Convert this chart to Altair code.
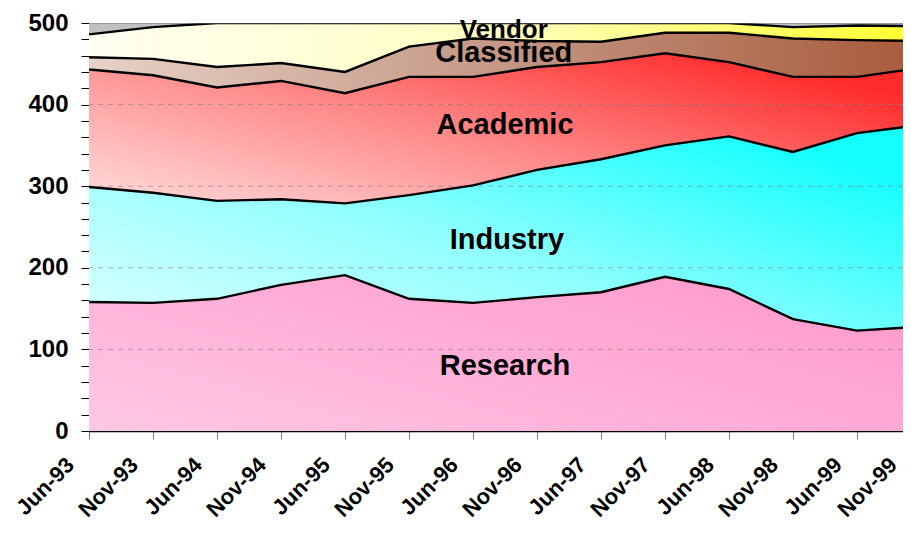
import json
import altair as alt
import pandas as pd
import numpy as np

dates = ["Jun-93", "Nov-93", "Jun-94", "Nov-94", "Jun-95", "Nov-95", "Jun-96",
         "Nov-96", "Jun-97", "Nov-97", "Jun-98", "Nov-98", "Jun-99", "Nov-99"]
research = [158, 157, 162, 179, 191, 162, 157, 164, 170, 189, 174, 137, 123, 128]
industry = [141, 135, 120, 105, 88, 127, 144, 156, 163, 161, 187, 205, 242, 247]
academic = [144, 144, 139, 145, 135, 145, 133, 126, 119, 113, 91, 92, 69, 70]
classified = [15, 20, 25, 22, 26, 37, 47, 32, 25, 25, 36, 47, 45, 33]
vendor = [28, 39, 54, 49, 60, 29, 19, 22, 23, 12, 12, 14, 18, 18]
others = [14, 5, 0, 0, 0, 0, 0, 0, 0, 0, 0, 5, 3, 4]

series_names = ["Research", "Industry", "Academic", "Classified", "Vendor", "Others"]
series_values = [research, industry, academic, classified, vendor, others]
# gradient stops (left -> right) and direction (diagonal or horizontal)
series_stops = [
    (["#FFC8E6", "#FFB0D8", "#FF9CCC"], True),
    (["#DCFFFF", "#90FFFF", "#14FFFF"], True),
    (["#FFDCDC", "#FF8A8A", "#FF2A2A"], True),
    (["#E6D2C6", "#C49684", "#A85A3A"], False),
    (["#FFFFF2", "#FFFFC0", "#FFFF2E"], False),
    (["#C0C0C0", "#C0C0C0", "#C0C0C0"], False),
]

label_names = ["Research", "Industry", "Academic", "Classified", "Vendor"]
label_x = [6.5, 6.53, 6.5, 6.48, 6.48]
label_y = [80, 234, 375, 463, 491]
label_size = [29, 29, 29, 29, 26]

grid_values = [100, 200, 300, 400]

rows = []
cum = np.zeros(len(dates))
for name, vals in zip(series_names, series_values):
    lo = cum.copy()
    hi = cum + np.array(vals, dtype=float)
    for i in range(len(dates)):
        rows.append(dict(idx=i, date=dates[i], series=name, lo=lo[i], hi=hi[i]))
    cum = hi
df = pd.DataFrame(rows)

FONT = "Liberation Sans"

x_scale = alt.Scale(domain=[0, 13], range=[0, 832], nice=False, zero=False)
y_scale = alt.Scale(domain=[0, 500], nice=False)

x_axis = alt.Axis(
    values=list(range(len(dates))),
    labelExpr=json.dumps(dates) + "[datum.value]",
    labelAngle=315, labelAlign="right", labelBaseline="middle",
    labelOffset={"condition": {"test": "datum.value == 13", "value": -28}, "value": -19},
    labelPadding=22, tickSize=8, tickColor="#808080",
    domainColor="black", domainWidth=1.5, labelFont=FONT, labelFontSize=22,
    labelFontWeight="bold", labelColor="black", grid=False, title=None,
    labelOverlap=False, labelBound=False, labelFlush=False,
)
y_axis = alt.Axis(
    values=list(range(0, 501, 20)),
    labelExpr="datum.value % 100 == 0 ? datum.label : ''",
    tickSize=8, tickColor="black", domainColor="#404040", labelPadding=13,
    labelFont=FONT, labelFontSize=24, labelFontWeight="bold", labelColor="black",
    grid=False, title=None, labelOverlap=False, labelBound=False, labelFlush=False,
)

X = alt.X("idx:Q", scale=x_scale, axis=x_axis)

layers = []
for name, (stops, diagonal) in zip(series_names, series_stops):
    grad = alt.Gradient(
        gradient="linear",
        stops=[alt.GradientStop(color=c, offset=k / (len(stops) - 1)) for k, c in enumerate(stops)],
        x1=0, y1=1 if diagonal else 0.5, x2=1, y2=0.3 if diagonal else 0.5,
    )
    layers.append(
        alt.Chart(df[df.series == name]).mark_area(color=grad, opacity=1, clip=True, interpolate="linear")
        .encode(x=X, y=alt.Y("hi:Q", scale=y_scale, axis=y_axis), y2="lo:Q")
    )

grid_df = pd.DataFrame({"g": grid_values})
layers.append(
    alt.Chart(grid_df).mark_rule(color="#808080", strokeDash=[5, 5], strokeWidth=1, opacity=0.6)
    .encode(y=alt.Y("g:Q", scale=y_scale, axis=y_axis))
)

for name in series_names:
    if name == "Others":
        layers.append(
            alt.Chart(df[df.series == name]).mark_line(color="#707070", strokeWidth=1, clip=True)
            .encode(x=X, y=alt.Y("hi:Q", scale=y_scale, axis=y_axis))
        )
    else:
        layers.append(
            alt.Chart(df[df.series == name]).mark_line(color="black", strokeWidth=2.4, clip=True)
            .encode(x=X, y=alt.Y("hi:Q", scale=y_scale, axis=y_axis))
        )

text_df = pd.DataFrame({"name": label_names, "tx": label_x, "ty": label_y, "fs": label_size})
layers.append(
    alt.Chart(text_df).mark_text(font=FONT, fontWeight="bold", color="black",
                                 align="center", baseline="middle")
    .encode(x=alt.X("tx:Q", scale=x_scale, axis=x_axis),
            y=alt.Y("ty:Q", scale=y_scale, axis=y_axis),
            text="name:N", size=alt.Size("fs:Q", scale=None))
)

chart = alt.layer(*layers).properties(
    width=814, height=408,
    autosize=alt.AutoSizeParams(type="none"),
    padding={"left": 81, "top": 15, "right": 0, "bottom": 91},
    background="white",
).configure_view(stroke=None)

chart.save("out.html", embed_options={"renderer": "svg", "actions": False})
